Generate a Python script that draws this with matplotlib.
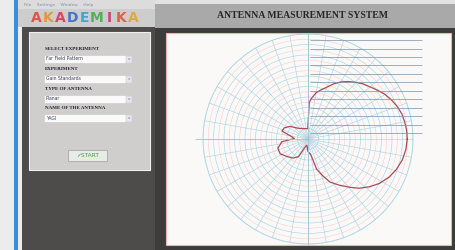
import matplotlib.pyplot as plt
import numpy as np
from matplotlib.patches import Rectangle

# measured radiation pattern (angle in degrees, radius in grid rings, outer ring = 10)
angles = [0, 5, 10, 15, 20, 25, 30, 35, 40, 45, 50, 55, 60, 65, 70, 75, 80, 85, 88,
          91, 100, 115, 133, 145, 155, 163, 170, 178, 186, 197, 208, 220, 232, 242,
          250, 260, 270, 280, 286, 292, 297, 304, 311, 316, 322, 328, 335, 341,
          347.5, 354, 360]
radii = [9.45, 9.43, 9.35, 9.25, 9.05, 8.78, 8.48, 8.1, 7.72, 7.42, 7.05, 6.68, 6.28,
         5.8, 5.25, 4.85, 4.48, 3.9, 3.5,
         1.0, 1.0, 1.1, 1.4, 2.1, 2.5, 2.6, 1.7, 1.3, 2.5, 3.0, 3.0, 2.6, 2.3, 1.9,
         0.8, 0.6, 1.2, 1.5, 3.0, 3.8, 4.6, 5.3, 6.1, 6.75, 7.4, 8.0, 8.55, 8.9,
         9.2, 9.38, 9.45]

# scan lines over the upper right quadrant (pixel rows)
scan_rows = [40, 49, 57, 65, 74, 82, 91, 99, 108, 116, 125, 133]

# form on the left
form_labels = ['SELECT EXPERIMENT', 'EXPERIMENT', 'TYPE OF ANTENNA', 'NAME OF THE ANTENNA']
form_values = ['Far Field Pattern', 'Gain Standards', 'Planar', 'YAGI']
logo_letters = list('AKADEMIKA')
logo_colors = ['#e04030', '#e89020', '#d83050', '#2f62c8', '#2aa0c8',
               '#3aae40', '#c83060', '#e05030', '#e8a030']

W, H = 456, 250
fig = plt.figure(figsize=(W / 100, H / 100), dpi=100)

# background / window chrome, pixel coords with y going down
bg = fig.add_axes([0, 0, 1, 1])
bg.set_xlim(0, W)
bg.set_ylim(H, 0)
bg.axis('off')


def box(ax, x, y, w, h, fc, ec='none', lw=0.0, z=1):
    ax.add_patch(Rectangle((x, y), w, h, facecolor=fc, edgecolor=ec, lw=lw, zorder=z))


box(bg, 0, 0, W, H, '#ececec', z=0)
box(bg, 14, 0, 4, H, '#3b8ed8')
box(bg, 18, 0, 137, 9, '#dcdcdc')
box(bg, 18, 9, 137, 18, '#cdcdcd')
box(bg, 22, 27, 133, 223, '#4e4c4a')
box(bg, 29, 32, 121, 138, '#d0cecc', ec='#efefef', lw=0.8)
box(bg, 155, 0, W - 155, 28, '#a9a9a9')
box(bg, 155, 0, W - 155, 4, '#e2e2e2')
box(bg, 155, 28, W - 155, H - 28, '#3c3c3c')
box(bg, 166, 33, 285, 212, '#fbf9f7', ec='#e8b4ac', lw=0.8)

bg.text(24, 5, 'File    Settings    Window    Help', fontsize=3.2,
        color='#7f8fb0', va='center', zorder=3)

# logo
for i, (ch, col) in enumerate(zip(logo_letters, logo_colors)):
    bg.text(36 + i * 12.2, 18, ch, fontsize=10, fontweight='bold', color=col,
            ha='center', va='center', family='DejaVu Sans', alpha=0.85, zorder=3)

# title
bg.text(303, 16, 'ANTENNA MEASUREMENT SYSTEM', fontsize=7, fontweight='bold',
        color='#262626', ha='center', va='center', family='Liberation Serif', zorder=3)

# form fields
label_y = [49, 69, 89, 108]
for lab, val, ly in zip(form_labels, form_values, label_y):
    bg.text(45, ly, lab, fontsize=3.6, fontweight='bold', color='#1c1c2c',
            va='center', family='Liberation Serif', zorder=3)
    box(bg, 44, ly + 6, 88, 8, '#fafafa', ec='#c8c8c8', lw=0.4, z=2)
    box(bg, 126, ly + 6.5, 6, 7, '#e6e6ea', ec='#c0c0c8', lw=0.3, z=3)
    bg.text(129, ly + 10, 'v', fontsize=3, color='#6070a0', ha='center', va='center', zorder=4)
    bg.text(46, ly + 10, val, fontsize=3.3, color='#404060', va='center', zorder=3)

box(bg, 68, 150, 39, 11, '#e8ece8', ec='#a8a8a8', lw=0.6, z=2)
bg.text(87.5, 155.5, '\u2713START', fontsize=4.2, color='#4a9a3a', ha='center',
        va='center', zorder=3)

# polar plot, centre at (308, 139), outer radius 105 px
cx, cy, R = 308, 139, 105
ax = fig.add_axes([(cx - R) / W, (H - cy - R) / H, 2 * R / W, 2 * R / H],
                  projection='polar')
ax.set_facecolor('none')
ax.set_ylim(0, 10)
ax.set_xticks(np.radians(np.arange(0, 360, 10)))
ax.set_xticklabels([])
ax.set_yticks(np.arange(1, 11))
ax.set_yticklabels([])
ax.grid(True, color='#acd4e4', lw=0.45)
ax.spines['polar'].set_color('#acd4e4')
ax.spines['polar'].set_linewidth(0.6)
# faint pink half rings
th = np.linspace(0, 2 * np.pi, 200)
for rr in np.arange(0.5, 10, 1.0):
    ax.plot(th, np.full_like(th, rr), color='#f2c8c8', lw=0.35)
ax.plot(np.radians(angles), radii, color='#b04858', lw=0.9, zorder=5)

# overlay in pixel coords
fg = fig.add_axes([0, 0, 1, 1])
fg.set_xlim(0, W)
fg.set_ylim(H, 0)
fg.axis('off')
fg.patch.set_alpha(0)
fg.hlines(scan_rows, 310, 422, color='#6d8fa8', lw=0.6, alpha=0.8)
fg.hlines([cy], 195, cx, color='#a6c2d0', lw=0.6)
fg.vlines([cx], 33, 245, color='#a6c2d0', lw=0.6)

fig.savefig('out.png', dpi=100)
